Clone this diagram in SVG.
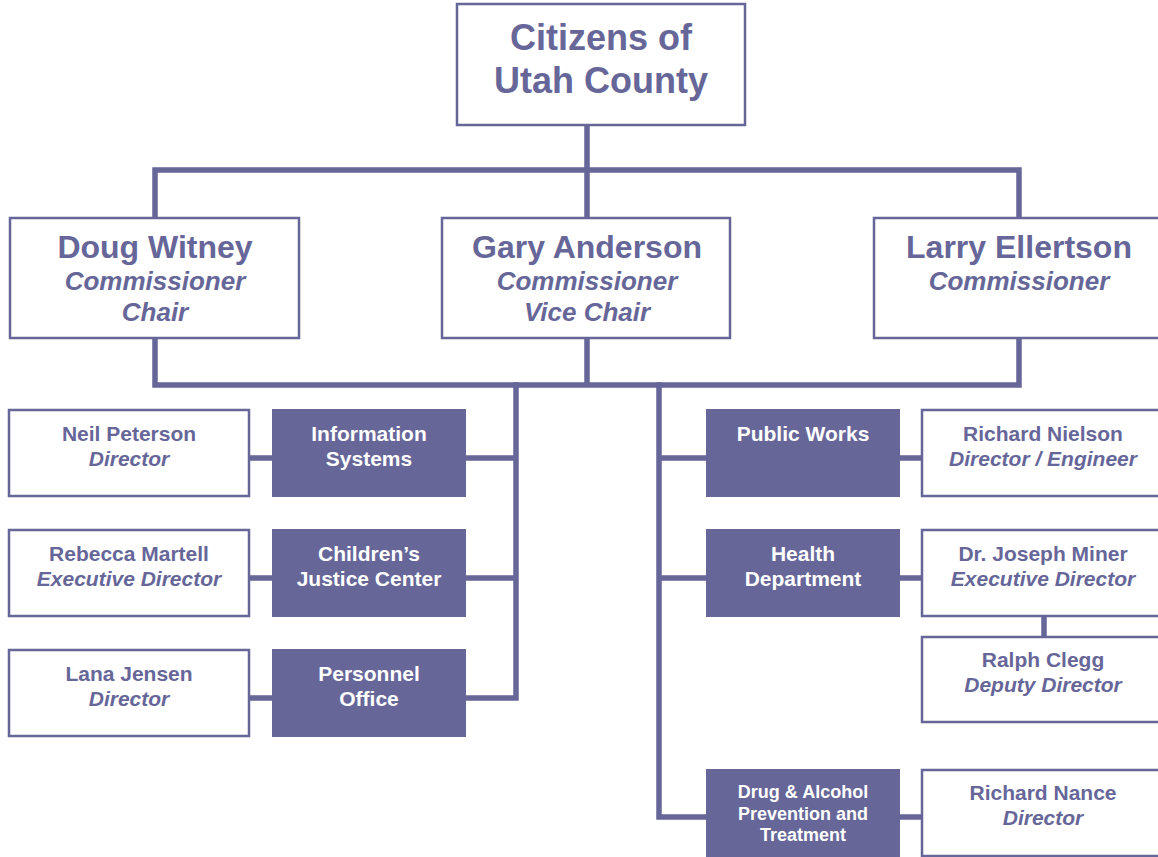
<svg xmlns="http://www.w3.org/2000/svg" width="1158" height="857" viewBox="0 0 1158 857">
<style>
.box{fill:#fff;stroke:#666699;stroke-width:2.5}
.dept{fill:#666699;stroke:none}
.ln{fill:none;stroke:#666699;stroke-width:5.5;stroke-linejoin:miter;stroke-linecap:square}
text{font-family:"Liberation Sans",Arial,sans-serif;font-weight:bold;text-anchor:middle;fill:#666699}
.it{font-style:italic}
.w{fill:#fff}
.t1{font-size:36px}
.t2{font-size:32px}
.t3{font-size:26px}
.t4{font-size:21px}
.t5{font-size:18px}
</style>
<rect width="1158" height="857" fill="#fff"/>
<g id="connectors">
<path class="ln" d="M587,125 V218 M155,218 V170 H1019 V218"/>
<path class="ln" d="M155,338 V385 H1019 V338 M587,338 V385"/>
<path class="ln" d="M516,385 V698 H466 M466,458 H516 M466,578 H516"/>
<path class="ln" d="M249,458 H272 M249,578 H272 M249,698 H272"/>
<path class="ln" d="M659,385 V817 H706 M659,458 H706 M659,578 H706"/>
<path class="ln" d="M900,458 H922 M900,578 H922 M900,817 H922 M1044,616 V637"/>
</g>
<g id="citizens"><rect class="box" x="457" y="4" width="288" height="121"/><text class="t1" x="601" y="50">Citizens of</text><text class="t1" x="601" y="93">Utah County</text></g>
<g id="witney"><rect class="box" x="10" y="218" width="289" height="120"/><text class="t2" x="155" y="258">Doug Witney</text><text class="t3 it" x="155" y="290">Commissioner</text><text class="t3 it" x="155" y="321">Chair</text></g>
<g id="anderson"><rect class="box" x="442" y="218" width="288" height="120"/><text class="t2" x="587" y="258">Gary Anderson</text><text class="t3 it" x="587" y="290">Commissioner</text><text class="t3 it" x="587" y="321">Vice Chair</text></g>
<g id="ellertson"><rect class="box" x="874" y="218" width="290" height="120"/><text class="t2" x="1019" y="258">Larry Ellertson</text><text class="t3 it" x="1019" y="290">Commissioner</text></g>
<g id="peterson"><rect class="box" x="9" y="410" width="240" height="86"/><text class="t4" x="129" y="441">Neil Peterson</text><text class="t4 it" x="129" y="466">Director</text></g>
<g id="infosys"><rect class="dept" x="272" y="409" width="194" height="88"/><text class="t4 w" x="369" y="441">Information</text><text class="t4 w" x="369" y="466">Systems</text></g>
<g id="martell"><rect class="box" x="9" y="530" width="240" height="86"/><text class="t4" x="129" y="561">Rebecca Martell</text><text class="t4 it" x="129" y="586">Executive Director</text></g>
<g id="cjc"><rect class="dept" x="272" y="529" width="194" height="88"/><text class="t4 w" x="369" y="561">Children’s</text><text class="t4 w" x="369" y="586">Justice Center</text></g>
<g id="jensen"><rect class="box" x="9" y="650" width="240" height="86"/><text class="t4" x="129" y="681">Lana Jensen</text><text class="t4 it" x="129" y="706">Director</text></g>
<g id="personnel"><rect class="dept" x="272" y="649" width="194" height="88"/><text class="t4 w" x="369" y="681">Personnel</text><text class="t4 w" x="369" y="706">Office</text></g>
<g id="publicworks"><rect class="dept" x="706" y="409" width="194" height="88"/><text class="t4 w" x="803" y="441">Public Works</text></g>
<g id="nielson"><rect class="box" x="922" y="410" width="242" height="86"/><text class="t4" x="1043" y="441">Richard Nielson</text><text class="t4 it" x="1043" y="466">Director / Engineer</text></g>
<g id="health"><rect class="dept" x="706" y="529" width="194" height="88"/><text class="t4 w" x="803" y="561">Health</text><text class="t4 w" x="803" y="586">Department</text></g>
<g id="miner"><rect class="box" x="922" y="530" width="242" height="86"/><text class="t4" x="1043" y="561">Dr. Joseph Miner</text><text class="t4 it" x="1043" y="586">Executive Director</text></g>
<g id="clegg"><rect class="box" x="922" y="637" width="242" height="85"/><text class="t4" x="1043" y="667">Ralph Clegg</text><text class="t4 it" x="1043" y="692">Deputy Director</text></g>
<g id="drug"><rect class="dept" x="706" y="769" width="194" height="90"/><text class="t5 w" x="803" y="798">Drug &amp; Alcohol</text><text class="t5 w" x="803" y="820">Prevention and</text><text class="t5 w" x="803" y="841">Treatment</text></g>
<g id="nance"><rect class="box" x="922" y="770" width="242" height="86"/><text class="t4" x="1043" y="800">Richard Nance</text><text class="t4 it" x="1043" y="825">Director</text></g>
</svg>
